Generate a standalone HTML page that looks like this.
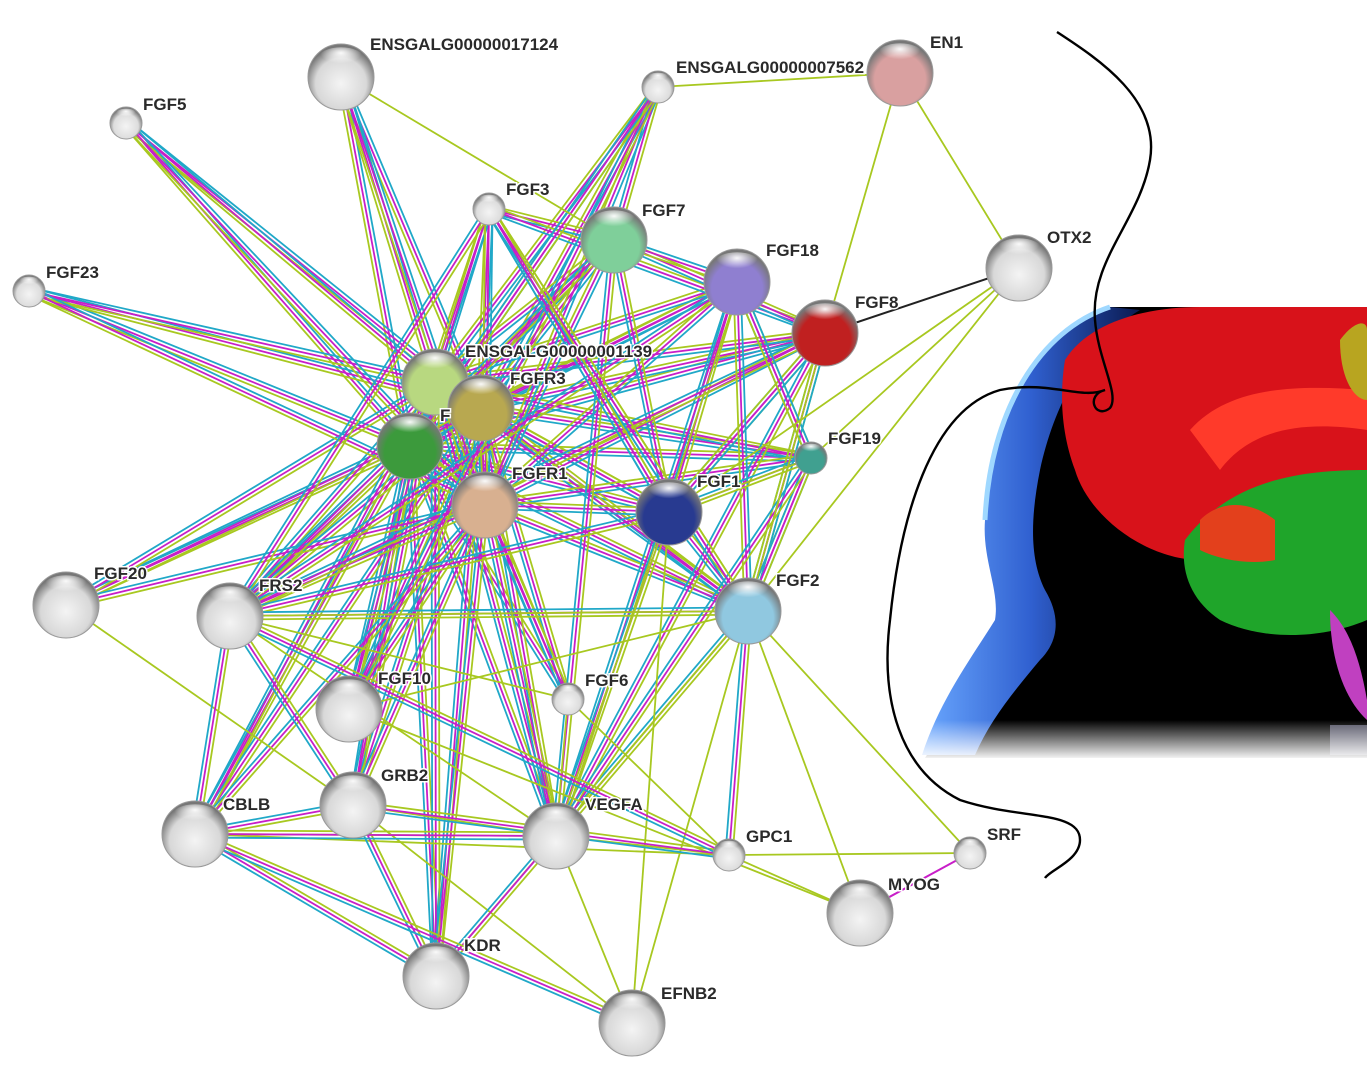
<!DOCTYPE html>
<html><head><meta charset="utf-8"><style>
html,body{margin:0;padding:0;background:#fff;width:1367px;height:1068px;overflow:hidden}
svg text{font-family:"Liberation Sans",sans-serif;font-size:17px;font-weight:bold;fill:#2a2a2a;stroke:#fff;stroke-width:3px;paint-order:stroke}
</style></head><body>
<svg id="s" width="1367" height="1068" viewBox="0 0 1367 1068" xmlns="http://www.w3.org/2000/svg">
<defs>
<radialGradient id="shine" cx="50%" cy="25%" r="45%"><stop offset="0" stop-color="#fff" stop-opacity=".95"/><stop offset="1" stop-color="#fff" stop-opacity="0"/></radialGradient>
<linearGradient id="fadeb" x1="0" y1="0" x2="0" y2="1"><stop offset="0" stop-color="#fff" stop-opacity="0"/><stop offset="1" stop-color="#fff" stop-opacity="1"/></linearGradient>
<linearGradient id="blueg" x1="0" y1="0" x2="1" y2="0"><stop offset="0" stop-color="#6aa8ff"/><stop offset="0.5" stop-color="#3060d0"/><stop offset="1" stop-color="#0a1a50"/></linearGradient>
</defs>
<g>
<path d="M1110,307 L1367,307 L1367,758 L925,758 C960,700 1000,650 1010,610 C1000,560 985,520 990,470 C1000,400 1050,330 1110,307 Z" fill="#000"/>
<path d="M1110,307 C1040,330 990,410 985,520 C982,560 1000,590 995,620 C970,660 940,700 922,755 L975,755 C990,720 1015,690 1040,660 C1060,640 1060,615 1045,590 C1030,560 1030,520 1040,470 C1055,400 1090,340 1140,310 Z" fill="url(#blueg)"/>
<path d="M1110,307 C1040,330 990,410 985,520" stroke="#9fd8ff" stroke-width="5" fill="none"/>
<path d="M1065,360 C1090,320 1150,307 1200,307 L1367,307 L1367,540 C1300,560 1250,550 1200,560 C1150,560 1090,520 1075,470 C1060,430 1060,390 1065,360 Z" fill="#d8121a"/>
<path d="M1190,430 C1230,385 1300,385 1367,390 L1367,430 C1300,420 1250,430 1220,470 Z" fill="#ff3a2a"/>
<path d="M1185,540 C1230,480 1300,470 1367,470 L1367,620 C1320,640 1260,640 1220,620 C1190,600 1180,570 1185,540 Z" fill="#1fa52a"/>
<path d="M1200,520 C1220,500 1250,500 1275,520 L1275,560 C1250,565 1220,560 1200,550 Z" fill="#e3401c"/>
<path d="M1340,340 C1355,320 1367,320 1367,330 L1367,400 C1355,400 1340,380 1340,340Z" fill="#b8a520"/>
<path d="M1330,610 C1350,630 1360,660 1367,700 L1367,720 C1345,700 1330,660 1330,610Z" fill="#c040c0"/>
<rect x="1330" y="725" width="37" height="30" fill="#556"/>
<rect x="920" y="720" width="447" height="40" fill="url(#fadeb)"/>
</g>
<g id="edges"></g>
<g id="nodes"></g>
<path d="M1057,32 C1100,60 1160,100 1150,160 C1140,220 1090,260 1095,320 C1098,360 1120,395 1110,408 C1095,420 1085,395 1105,390 C1080,400 1050,380 1000,390 C930,410 900,520 890,620 C880,700 900,770 960,800 C1020,820 1080,810 1080,840 C1080,860 1050,870 1045,878" fill="none" stroke="#000" stroke-width="2.4"/>
</svg>
<script>
var N={
E17124:[341,77,33,'#d8d8d8','ENSGALG00000017124',370,50],
FGF5:[126,123,16,'#ddd','FGF5',143,110],
E7562:[658,87,16,'#ddd','ENSGALG00000007562',676,73],
EN1:[900,73,33,'#d9a0a0','EN1',930,48],
FGF3:[489,209,16,'#ddd','FGF3',506,195],
FGF7:[614,240,33,'#7fcf9a','FGF7',642,216],
FGF18:[737,282,33,'#8f7fd0','FGF18',766,256],
OTX2:[1019,268,33,'#d8d8d8','OTX2',1047,243],
FGF23:[29,291,16,'#ddd','FGF23',46,278],
FGF8:[825,333,33,'#c02020','FGF8',855,308],
E1139:[435,382,33,'#b8d880','ENSGALG00000001139',465,357],
FGFR3:[481,408,33,'#b8a850','FGFR3',510,384],
F:[410,446,33,'#3c9a3c','F',440,421],
FGF19:[811,458,16,'#40a090','FGF19',828,444],
FGFR1:[485,505,33,'#d8b090','FGFR1',512,479],
FGF1:[669,512,33,'#283a90','FGF1',697,487],
FGF20:[66,605,33,'#d8d8d8','FGF20',94,579],
FRS2:[230,616,33,'#d8d8d8','FRS2',259,591],
FGF2:[748,611,33,'#90c8e0','FGF2',776,586],
FGF10:[349,709,33,'#d8d8d8','FGF10',378,684],
FGF6:[568,699,16,'#ddd','FGF6',585,686],
GRB2:[353,805,33,'#d8d8d8','GRB2',381,781],
CBLB:[195,834,33,'#d8d8d8','CBLB',223,810],
VEGFA:[556,836,33,'#d8d8d8','VEGFA',585,810],
GPC1:[729,855,16,'#ddd','GPC1',746,842],
SRF:[970,853,16,'#ddd','SRF',987,840],
MYOG:[860,913,33,'#d8d8d8','MYOG',888,890],
KDR:[436,976,33,'#d8d8d8','KDR',464,951],
EFNB2:[632,1023,33,'#d8d8d8','EFNB2',661,999]};
var M=['#a8c820','#c81ec8','#20a8c8'];
var Y='#a8c820';
var E=[];
var seed=7;function rnd(){seed=(seed*9301+49297)%233280;return seed/233280;}
var hubs=['F','FGFR3','E1139','FGFR1'];
var lig=['FGF5','FGF23','FGF20','FGF3','FGF7','FGF18','FGF8','FGF19','FGF1','FGF2','FGF10','FGF6','E17124','E7562','FRS2','GRB2','CBLB','KDR','VEGFA'];
hubs.forEach(function(h){lig.forEach(function(l){E.push([h,l,'m'])})});
E.push(['F','FGFR1','m'],['F','FGFR3','m'],['FGFR3','FGFR1','m']);
['FGF3','FGF7','FGF18','FGF8','FGF1','FGF2','FGF19'].forEach(function(a){['FGF7','FGF18','FGF8','FGF1','FGF2','FGF19','FRS2','VEGFA'].forEach(function(b){if(a!=b&&rnd()<0.5)E.push([a,b,'m'])})});
E.push(['E7562','FGF7','m'],['E7562','FGF10','m'],['E7562','F','m'],['FGF3','FGF2','m'],['FGF3','FGF1','m'],['E17124','FGF7','y']);
[['EN1','E7562'],['EN1','FGF8'],['EN1','OTX2'],['OTX2','FGF19'],['OTX2','FGF2'],['OTX2','FGF1'],['FGF2','MYOG'],['FGF2','SRF'],['FGF2','VEGFA'],['FGF2','EFNB2'],['FGF2','KDR'],['FGF2','FRS2'],['FGF2','FGF10'],['VEGFA','GRB2'],['VEGFA','CBLB'],['VEGFA','GPC1'],['VEGFA','EFNB2'],['GPC1','SRF'],['GPC1','MYOG'],['FGF20','GRB2'],['FRS2','VEGFA'],['FGF6','GPC1'],['FGF6','VEGFA'],['FGF1','VEGFA'],['FGF1','EFNB2'],['FGF8','FGF2'],['FGF19','FGF1'],['GRB2','EFNB2'],['CBLB','GPC1'],['FGF10','MYOG'],['FRS2','FGF6']].forEach(function(e){E.push([e[0],e[1],'y'])});
[['GRB2','CBLB'],['GRB2','KDR'],['CBLB','KDR'],['FRS2','GRB2'],['FRS2','CBLB'],['VEGFA','KDR'],['FGF2','GPC1'],['CBLB','VEGFA'],['GRB2','GPC1'],['CBLB','EFNB2'],['FRS2','GPC1']].forEach(function(e){E.push([e[0],e[1],'m'])});
var s='';
E.forEach(function(e){var a=N[e[0]],b=N[e[1]];var dx=b[0]-a[0],dy=b[1]-a[1],L=Math.hypot(dx,dy)||1,nx=-dy/L,ny=dx/L;
var cols=e[2]=='m'?M:[Y];
cols.forEach(function(c,i){var o=(i-(cols.length-1)/2)*3.6;s+='<line x1="'+(a[0]+nx*o)+'" y1="'+(a[1]+ny*o)+'" x2="'+(b[0]+nx*o)+'" y2="'+(b[1]+ny*o)+'" stroke="'+c+'" stroke-width="1.8"/>'})});
s+='<line x1="825" y1="333" x2="1019" y2="268" stroke="#222" stroke-width="2"/>';
s+='<line x1="970" y1="853" x2="860" y2="913" stroke="#c81ec8" stroke-width="2"/>';
document.getElementById('edges').innerHTML=s;
var t='';var lab='';
for(var k in N){var n=N[k];var id='g'+k;
t+='<radialGradient id="'+id+'" cx="50%" cy="60%" r="55%"><stop offset="0" stop-color="'+(n[3]=='#d8d8d8'||n[3]=='#ddd'?'#f4f4f4':n[3])+'"/><stop offset="0.7" stop-color="'+n[3]+'"/><stop offset="1" stop-color="#777"/></radialGradient>';
t+='<circle cx="'+n[0]+'" cy="'+n[1]+'" r="'+n[2]+'" fill="url(#'+id+')" stroke="#999" stroke-width="1"/>';
t+='<ellipse cx="'+n[0]+'" cy="'+(n[1]-n[2]*0.55)+'" rx="'+n[2]*0.7+'" ry="'+n[2]*0.35+'" fill="url(#shine)"/>';
lab+='<text x="'+n[5]+'" y="'+n[6]+'">'+n[4]+'</text>';}
document.getElementById('nodes').innerHTML=t+lab;
</script>
</body></html>
